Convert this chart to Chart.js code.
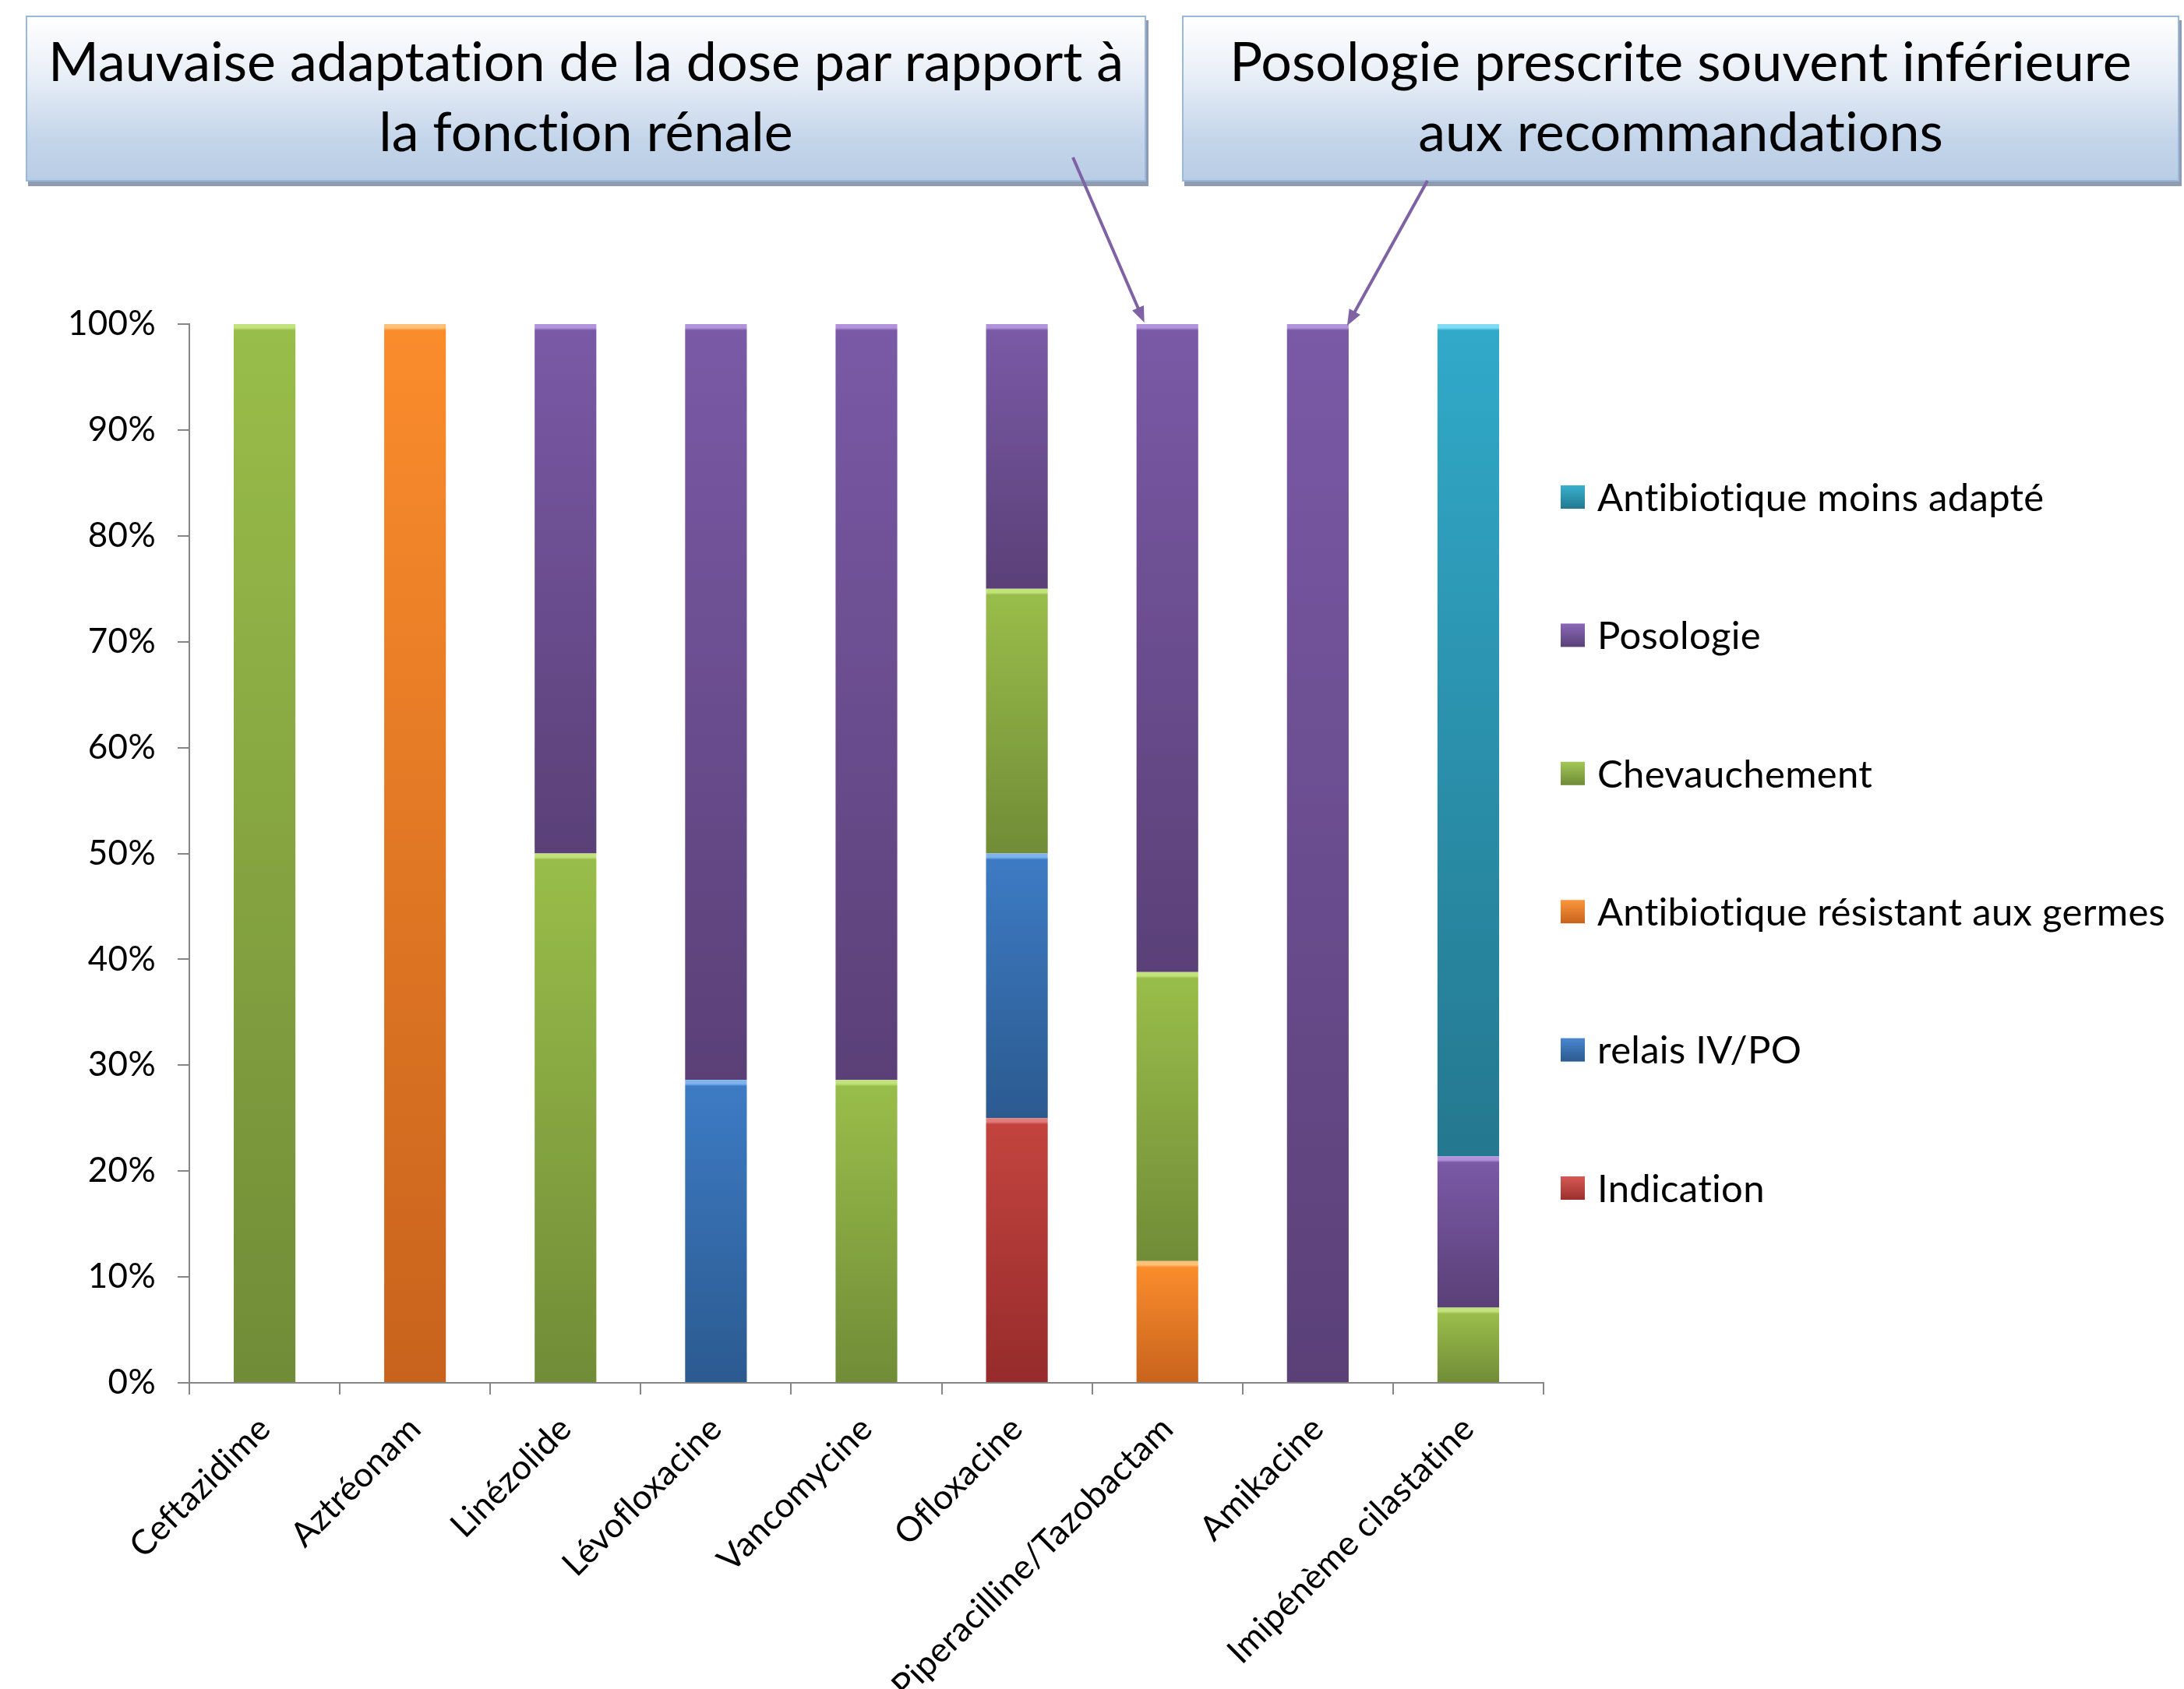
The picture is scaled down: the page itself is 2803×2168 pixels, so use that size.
<!DOCTYPE html>
<html>
<head>
<meta charset="utf-8">
<script src="https://cdn.jsdelivr.net/npm/chart.js@4"></script>
<style>
  html, body { margin: 0; padding: 0; background: #fff; }
  #wrap { position: relative; width: 2803px; height: 2168px; overflow: hidden; }
  .callout {
    position: absolute; top: 20px; height: 213px; box-sizing: border-box;
    border: 2px solid #9ab8dc; padding-bottom: 10px;
    background: linear-gradient(#ffffff 0%, #e9eff7 35%, #c4d5ea 75%, #b9cde5 100%);
    box-shadow: 3px 6px 0 #8e9bb0;
    font-family: Lato, sans-serif; font-size: 70px; line-height: 90px;
    font-variant-ligatures: none;
    color: #000; text-align: center;
    display: flex; align-items: center; justify-content: center;
  }
  canvas { position: absolute; left: 0; top: 0; z-index: 1; }
</style>
</head>
<body>
<div id="wrap">
  <div class="callout" style="left:33px;width:1438px;">Mauvaise adaptation de la dose par rapport à<br>la fonction rénale</div>
  <div class="callout" style="left:1517px;width:1280px;">Posologie prescrite souvent inférieure<br>aux recommandations</div>
  <canvas id="myChart" width="2803" height="2168"></canvas>
</div>
<script>
var categories = ['Ceftazidime', 'Aztréonam', 'Linézolide', 'Lévofloxacine', 'Vancomycine',
  'Ofloxacine', 'Piperacilline/Tazobactam', 'Amikacine', 'Imipénème cilastatine'];

// percentages per antibiotic, bottom segment first
var indication    = [0, 0, 0, 0, 0, 25, 0, 0, 0];
var relais        = [0, 0, 0, 28.6, 0, 25, 0, 0, 0];
var resistant     = [0, 100, 0, 0, 0, 0, 11.5, 0, 0];
var chevauchement = [100, 0, 50, 0, 28.6, 25, 27.3, 0, 7.1];
var posologie     = [0, 0, 50, 71.4, 71.4, 25, 61.2, 100, 14.3];
var moinsAdapte   = [0, 0, 0, 0, 0, 0, 0, 0, 78.6];

var yTicks = [0, 10, 20, 30, 40, 50, 60, 70, 80, 90, 100];

var stackOrder = [indication, relais, resistant, chevauchement, posologie, moinsAdapte];

// vertical gradient for each segment, light bevel on top
function shade(light, top, bottom, data) {
  return (ctx) => {
    var chart = ctx.chart;
    if (!chart.chartArea || ctx.type !== 'data') return top;
    var i = ctx.dataIndex;
    var below = stackOrder.slice(0, stackOrder.indexOf(data));
    var base = below.reduce((s, arr) => s + (arr[i] || 0), 0);
    var sc = chart.scales.y;
    var y0 = sc.getPixelForValue(base + (data[i] || 0));
    var y1 = sc.getPixelForValue(base);
    var h = y1 - y0;
    if (!isFinite(h) || h < 2) return top;
    var g = chart.ctx.createLinearGradient(0, y0, 0, y1);
    var f = Math.min(8 / h, 0.3);
    g.addColorStop(0, light);
    g.addColorStop(f * 0.6, light);
    g.addColorStop(f, top);
    g.addColorStop(1, bottom);
    return g;
  };
}

function makeSet(label, data, light, top, bottom, swatch) {
  return {
    label: label,
    data: data.map(v => v === 0 ? null : v),
    backgroundColor: shade(light, top, bottom, data),
    borderWidth: 0,
    swatch: swatch
  };
}

// tiny letter spacing keeps Lato from drawing the "ti" ligature
var noLigatures = {
  id: 'noLigatures',
  beforeDraw(chart) { chart.ctx.letterSpacing = '0.3px'; }
};

var sideLegend = {
  id: 'sideLegend',
  afterDraw(chart) {
    var c = chart.ctx;
    var sets = chart.data.datasets.slice().reverse();
    c.save();
    c.letterSpacing = '0.3px';
    c.font = '49px Lato';
    c.textBaseline = 'middle';
    c.textAlign = 'left';
    sets.forEach((ds, k) => {
      var yy = 638 + k * 177.4;
      var g = c.createLinearGradient(0, yy - 15, 0, yy + 15);
      g.addColorStop(0, ds.swatch[0]);
      g.addColorStop(1, ds.swatch[1]);
      c.fillStyle = g;
      c.fillRect(2003, yy - 15, 31, 30);
      c.fillStyle = '#000';
      c.fillText(ds.label, 2050, yy + 2);
    });
    c.restore();
  }
};

function arrow(c, x0, y0, x1, y1) {
  var a = Math.atan2(y1 - y0, x1 - x0), L = 22;
  c.beginPath();
  c.moveTo(x0, y0);
  c.lineTo(x1 - Math.cos(a) * 10, y1 - Math.sin(a) * 10);
  c.stroke();
  c.beginPath();
  c.moveTo(x1, y1);
  c.lineTo(x1 - L * Math.cos(a - 0.38), y1 - L * Math.sin(a - 0.38));
  c.lineTo(x1 - L * Math.cos(a + 0.38), y1 - L * Math.sin(a + 0.38));
  c.closePath();
  c.fill();
}

var callArrows = {
  id: 'callArrows',
  afterDraw(chart) {
    var c = chart.ctx, xs = chart.scales.x, ys = chart.scales.y;
    var half = xs.width / categories.length * 0.41 / 2;
    var top = ys.getPixelForValue(100);
    c.save();
    c.strokeStyle = '#7e62a4';
    c.fillStyle = '#7e62a4';
    c.lineWidth = 4;
    arrow(c, 1377, 202, xs.getPixelForValue(6) - half + 10, top - 2);
    arrow(c, 1832, 232, xs.getPixelForValue(7) + half - 2, top + 2);
    c.restore();
  }
};

new Chart('myChart', {
  type: 'bar',
  data: {
    labels: categories,
    datasets: [
      makeSet('Indication', indication, '#e07b78', '#c3443f', '#962b2b', ['#d65a55', '#9b2f2d']),
      makeSet('relais IV/PO', relais, '#7fb3ee', '#3d7bc4', '#2b5a8f', ['#4a86cf', '#2b5a8f']),
      makeSet('Antibiotique résistant aux germes', resistant, '#ffc07a', '#fa8c2c', '#c8631d', ['#fb963c', '#c8631d']),
      makeSet('Chevauchement', chevauchement, '#c2e27c', '#99bd4a', '#718c37', ['#a3c757', '#6f8b36']),
      makeSet('Posologie', posologie, '#b193dc', '#7a59a6', '#5a4077', ['#8a69b8', '#5a4077']),
      makeSet('Antibiotique moins adapté', moinsAdapte, '#7fdcf2', '#31a9c9', '#24788f', ['#38b0cf', '#23788e'])
    ]
  },
  options: {
    responsive: false,
    animation: false,
    events: [],
    layout: { padding: { top: 416, right: 822, bottom: 0, left: 0 } },
    datasets: { bar: { categoryPercentage: 1, barPercentage: 0.41 } },
    plugins: { legend: { display: false }, tooltip: { enabled: false } },
    scales: {
      x: {
        stacked: true,
        afterFit: (scale) => { scale.height = 393; },
        border: { color: '#868686', width: 2 },
        grid: { display: true, drawOnChartArea: false, color: '#868686', lineWidth: 2, tickLength: 15 },
        ticks: {
          color: '#000', font: { family: 'Lato', size: 44 },
          minRotation: 45, maxRotation: 45, autoSkip: false, padding: 18
        }
      },
      y: {
        stacked: true,
        min: 0, max: 100,
        afterFit: (scale) => { scale.width = 243; },
        afterBuildTicks: (scale) => { scale.ticks = yTicks.map(v => ({ value: v })); },
        border: { color: '#868686', width: 2 },
        grid: { display: true, drawOnChartArea: false, color: '#868686', lineWidth: 2, tickLength: 15 },
        ticks: {
          color: '#000', font: { family: 'Lato', size: 44 }, padding: 28,
          callback: (v) => v + '%'
        }
      }
    }
  },
  plugins: [noLigatures, sideLegend, callArrows]
});
</script>
</body>
</html>
